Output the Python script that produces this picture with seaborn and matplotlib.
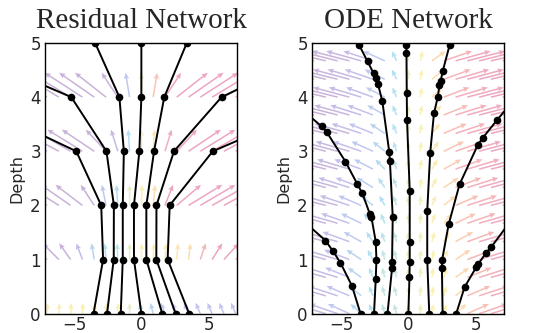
import numpy as np
import pandas as pd
import matplotlib
matplotlib.use("Agg")
import matplotlib.pyplot as plt
import seaborn as sns
from matplotlib.colors import LinearSegmentedColormap, Normalize

sns.set_style("white")
plt.rcParams["font.family"] = ["DejaVu Sans"]

# ---------------- data ----------------
titles = ["Residual Network", "ODE Network"]
x_ticks = [-5, 0, 5]
depth_ticks = [0, 1, 2, 3, 4, 5]

# Residual network: hidden-state position of 7 trajectories at each layer (depth 0..5)
res_layers = [0, 1, 2, 3, 4, 5]
res_layer0 = [-3.55, -2.55, -1.53, 0.0, 1.55, 2.54, 3.55]
res_layer1 = [-2.84, -2.05, -1.38, -0.55, 0.37, 1.11, 1.95]
res_layer2 = [-2.98, -2.04, -1.38, -0.55, 0.37, 1.12, 2.10]
res_layer3 = [-4.83, -2.59, -1.30, -0.15, 0.94, 2.42, 5.30]
res_layer4 = [-13.3, -5.20, -1.63, 0.0, 1.70, 5.95, 14.6]
res_layer5 = [-25.0, -14.5, -3.43, 0.0, 3.37, 14.3, 25.0]

# ODE network: solver evaluation points along 7 trajectories (x, depth)
ode_t1_x = [-3.55, -4.18, -5.04, -5.58, -6.15, -8.0]
ode_t1_d = [0.0, 0.51, 0.94, 1.15, 1.35, 1.76]
ode_t2_x = [-2.55, -2.42, -2.37, -2.42, -2.74, -2.87, -3.41, -3.78, -4.67, -6.07, -6.44, -8.0]
ode_t2_d = [0.0, 0.64, 1.00, 1.33, 1.78, 1.85, 2.22, 2.39, 2.81, 3.36, 3.46, 3.79]
ode_t3_x = [-1.55, -1.21, -1.21, -1.16, -1.37, -1.42, -1.93, -2.25, -2.42, -2.58, -3.03, -3.65, -4.2]
ode_t3_d = [0.0, 0.84, 0.96, 1.79, 2.82, 2.99, 3.92, 4.24, 4.35, 4.44, 4.66, 4.96, 5.2]
ode_t4_x = [0.0, 0.08, 0.10, 0.10, 0.10, -0.10, -0.12, -0.14, -0.15, -0.15]
ode_t4_d = [0.0, 0.67, 0.96, 1.33, 2.27, 3.58, 4.07, 4.81, 4.96, 5.2]
ode_t5_x = [1.55, 1.40, 1.40, 1.62, 1.90, 2.18, 2.31, 2.40, 2.55, 3.06, 3.35]
ode_t5_d = [0.0, 1.00, 1.90, 2.97, 3.70, 4.00, 4.22, 4.30, 4.48, 4.96, 5.2]
ode_t6_x = [2.54, 2.49, 2.51, 2.99, 3.80, 5.16, 5.53, 6.59, 8.0]
ode_t6_d = [0.0, 0.84, 1.00, 1.65, 2.39, 3.12, 3.25, 3.58, 4.0]
ode_t7_x = [3.55, 4.17, 5.04, 5.20, 5.78, 6.15, 8.0]
ode_t7_d = [0.0, 0.49, 0.86, 0.92, 1.13, 1.23, 1.85]

# Vector-field arrows: tail columns, and per-row horizontal / vertical extents
field_x = [-7, -6.125, -5.25, -4.375, -3.5, -2.625, -1.75, -0.875, 0,
           0.875, 1.75, 2.625, 3.5, 4.375, 5.25, 6.125, 7]

res_field_depth = [0, 1, 2, 3, 4]
res_field_rise = [0.2, 0.3, 0.38, 0.4, 0.45]
res_field_dx = [
    [0.05, 0.05, 0.05, 0.05, 0.05, 0.05, 0.03, 0.0, -0.1, -0.2, -0.3, -0.35, -0.35, -0.35, -0.35, -0.35, -0.35],
    [-1.5, -1.2, -0.85, -0.45, -0.2, -0.1, -0.05, 0.0, 0.02, 0.05, 0.08, 0.1, 0.15, 0.4, 0.75, 1.1, 1.4],
    [-2.5, -2.4, -2.2, -2.0, -1.0, -0.3, -0.1, 0.0, 0.05, 0.15, 0.6, 1.8, 2.5, 2.6, 2.7, 2.8, 2.8],
    [-3.0, -3.0, -2.8, -2.6, -2.4, -1.5, -0.5, -0.1, 0.0, 0.1, 0.5, 1.5, 2.4, 2.6, 2.8, 3.0, 3.0],
    [-3.0, -3.0, -3.0, -2.8, -2.6, -2.3, -1.2, -0.3, 0.0, 0.3, 1.2, 2.3, 2.6, 2.8, 3.0, 3.0, 3.0],
]

ode_field_depth = [0.0, 0.33, 0.67, 1.0, 1.33, 1.67, 2.0, 2.33, 2.67, 3.0, 3.33, 3.67, 4.0, 4.33, 4.67]
ode_field_rise = [0.18] * 15
ode_field_dx = [
    [-2.6, -2.4, -2.1, -1.6, -0.8, -0.3, -0.2, -0.2, 0.0, 0.05, 0.1, 0.2, 0.8, 1.6, 2.1, 2.4, 2.6],
    [-2.7, -2.5, -2.2, -1.7, -0.9, -0.3, -0.2, -0.2, 0.0, 0.05, 0.1, 0.2, 0.9, 1.7, 2.2, 2.5, 2.7],
    [-2.8, -2.6, -2.3, -1.8, -1.0, -0.3, -0.2, -0.2, 0.0, 0.05, 0.1, 0.25, 1.0, 1.8, 2.3, 2.6, 2.8],
    [-2.8, -2.6, -2.4, -1.9, -1.1, -0.4, -0.2, -0.2, 0.0, 0.05, 0.15, 0.3, 1.1, 1.9, 2.4, 2.6, 2.8],
    [-2.9, -2.7, -2.5, -2.0, -1.3, -0.5, -0.25, -0.2, 0.0, 0.05, 0.2, 0.4, 1.3, 2.0, 2.5, 2.7, 2.9],
    [-2.9, -2.7, -2.5, -2.1, -1.5, -0.7, -0.3, -0.2, 0.0, 0.05, 0.25, 0.6, 1.5, 2.1, 2.5, 2.7, 2.9],
    [-3.0, -2.8, -2.6, -2.2, -1.7, -0.9, -0.4, -0.25, 0.0, 0.05, 0.3, 0.9, 1.7, 2.2, 2.6, 2.8, 3.0],
    [-3.0, -2.8, -2.6, -2.3, -1.9, -1.2, -0.5, -0.25, 0.0, 0.1, 0.35, 1.1, 1.9, 2.3, 2.6, 2.8, 3.0],
    [-3.0, -2.9, -2.7, -2.4, -2.0, -1.4, -0.7, -0.25, 0.0, 0.1, 0.4, 1.3, 2.0, 2.4, 2.7, 2.9, 3.0],
    [-3.0, -2.9, -2.7, -2.5, -2.1, -1.6, -0.9, -0.25, 0.0, 0.1, 0.5, 1.5, 2.1, 2.5, 2.7, 2.9, 3.0],
    [-3.1, -3.0, -2.8, -2.6, -2.2, -1.8, -1.1, -0.3, 0.0, 0.1, 0.6, 1.7, 2.2, 2.6, 2.8, 3.0, 3.1],
    [-3.1, -3.0, -2.8, -2.6, -2.3, -1.9, -1.3, -0.3, 0.0, 0.15, 0.7, 1.8, 2.3, 2.6, 2.8, 3.0, 3.1],
    [-3.1, -3.0, -2.9, -2.7, -2.4, -2.0, -1.4, -0.3, 0.0, 0.15, 0.8, 1.9, 2.4, 2.7, 2.9, 3.0, 3.1],
    [-3.2, -3.0, -2.9, -2.7, -2.5, -2.1, -1.5, -0.35, 0.0, 0.15, 0.9, 2.0, 2.5, 2.7, 2.9, 3.0, 3.2],
    [-3.2, -3.1, -2.9, -2.8, -2.6, -2.2, -1.6, -0.35, 0.0, 0.2, 1.0, 2.1, 2.6, 2.8, 2.9, 3.1, 3.2],
]

# ---------------- tables ----------------
res_rows = []
for layer, xs in zip(res_layers, [res_layer0, res_layer1, res_layer2,
                                   res_layer3, res_layer4, res_layer5]):
    for k, xv in enumerate(xs):
        res_rows.append({"traj": k, "x": xv, "depth": layer})
res_df = pd.DataFrame(res_rows)

ode_rows = []
ode_sets = [(ode_t1_x, ode_t1_d), (ode_t2_x, ode_t2_d), (ode_t3_x, ode_t3_d),
            (ode_t4_x, ode_t4_d), (ode_t5_x, ode_t5_d), (ode_t6_x, ode_t6_d),
            (ode_t7_x, ode_t7_d)]
for k, (xs, ds) in enumerate(ode_sets):
    for xv, dv in zip(xs, ds):
        ode_rows.append({"traj": k, "x": xv, "depth": dv})
ode_df = pd.DataFrame(ode_rows)

# ---------------- figure ----------------
fig = plt.figure(figsize=(5.34, 3.33), dpi=100)
ax1 = fig.add_axes([0.0843, 0.058, 0.3596, 0.8129])
ax2 = fig.add_axes([0.5843, 0.058, 0.3596, 0.8129])

cmap = LinearSegmentedColormap.from_list(
    "flow",
    [(0.0, "#7a3f9e"), (0.2, "#6a6ad8"), (0.45, "#3fb6dc"), (0.52, "#f2e04a"),
     (0.66, "#f5a23c"), (0.82, "#ec4a4a"), (1.0, "#d21f6a")])


def draw_field(ax, depths, rises, dx, norm):
    X, Y = np.meshgrid(np.array(field_x, float), np.array(depths, float))
    U = np.array(dx, float)
    V = np.repeat(np.array(rises, float)[:, None], U.shape[1], axis=1)
    ax.quiver(X, Y, U, V, U, cmap=cmap, norm=norm, angles="xy",
              scale_units="xy", scale=1, width=0.008, headwidth=3.5,
              headlength=4, headaxislength=3.5, alpha=0.4, zorder=1)


draw_field(ax1, res_field_depth, res_field_rise, res_field_dx, Normalize(-0.6, 0.6))
draw_field(ax2, ode_field_depth, ode_field_rise, ode_field_dx, Normalize(-3, 3))

for ax, df, title in [(ax1, res_df, titles[0]), (ax2, ode_df, titles[1])]:
    sns.lineplot(data=df, x="x", y="depth", units="traj", estimator=None,
                 sort=False, color="black", linewidth=1.4, marker="o",
                 markersize=5.5, markeredgewidth=0, ax=ax, zorder=3)
    ax.set_xlim(-7.15, 7.1)
    ax.set_ylim(0, 5)
    ax.set_xticks(x_ticks)
    ax.set_yticks(depth_ticks)
    ax.set_xlabel("")
    ax.set_ylabel("Depth", fontsize=11.5, labelpad=4)
    ax.set_title(title, fontsize=21, family=["Liberation Serif"], pad=10.5)
    ax.tick_params(length=0, labelsize=12, pad=1.5)
    ax.tick_params(axis="y", pad=3)
    for sp in ax.spines.values():
        sp.set_color("black")
        sp.set_linewidth(1.0)
        sp.set_visible(True)

fig.savefig("out.png", dpi=100)
